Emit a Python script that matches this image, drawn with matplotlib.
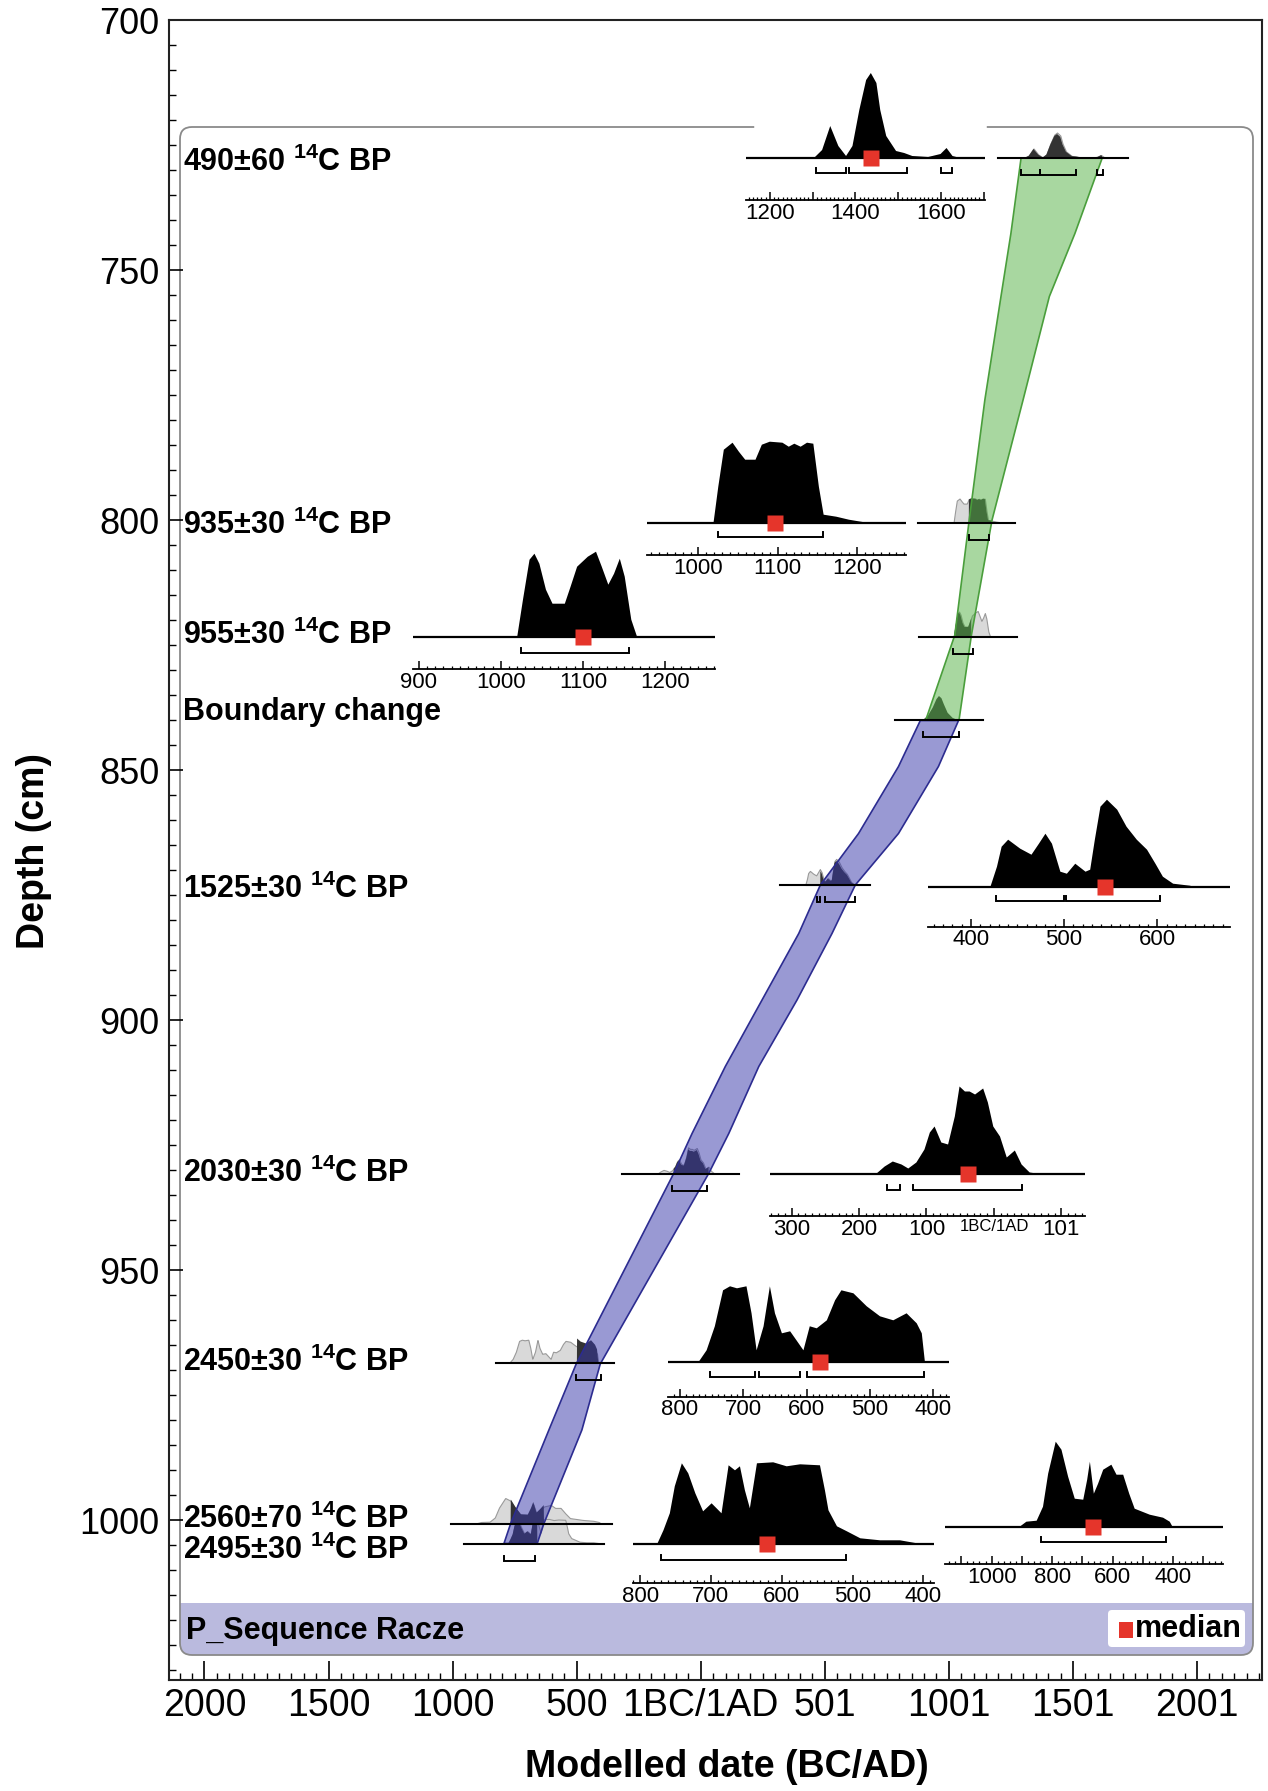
import numpy as np
import matplotlib
matplotlib.use('Agg')
import matplotlib.pyplot as plt
from matplotlib.patches import FancyBboxPatch, Rectangle
from matplotlib.ticker import MultipleLocator, FuncFormatter
from matplotlib.colors import to_rgba

plt.rcParams['font.family'] = ['Liberation Sans', 'DejaVu Sans']
plt.rcParams['mathtext.fontset'] = 'custom'
plt.rcParams['mathtext.rm'] = 'Liberation Sans'
plt.rcParams['mathtext.bf'] = 'Liberation Sans:bold'
plt.rcParams['mathtext.default'] = 'bf'

W, H = 1268, 1791
RED = '#e5352b'

# ---------------- data ----------------
x_ticks = [-2000, -1500, -1000, -500, 0, 500, 1000, 1500, 2000]
x_tick_labels = ['2000', '1500', '1000', '500', '1BC/1AD', '501', '1001', '1501', '2001']
y_ticks = [700, 750, 800, 850, 900, 950, 1000]

# age-depth model envelopes (depth cm, date)
green_depth = [727.6, 742.7, 755.3, 776, 800, 823, 840]
green_left = [1291, 1250, 1210, 1145, 1082, 1024, 907]
green_right = [1618, 1508, 1405, 1299, 1174, 1091, 1041]
blue_depth = [840.1, 849.3, 862.7, 873, 882.7, 896, 909.3, 922.7, 930.7, 968.8, 982, 1000.7, 1004.7]
blue_left = [885, 797, 636, 482, 395, 247, 99, -35, -109, -502, -612, -766, -793]
blue_right = [1039, 958, 797, 623, 529, 388, 234, 113, 32, -405, -479, -632, -659]

labels = ['490±60', '935±30', '955±30', '1525±30', '2030±30', '2450±30', '2560±70', '2495±30']
depths = [727.6, 800.5, 823.3, 873.0, 930.7, 968.5, 1000.7, 1004.7]
label_depths = [728.4, 801.0, 823.0, 873.8, 930.6, 968.4, 999.8, 1006.0]

d490_yr = [1303, 1322, 1341, 1360, 1378, 1393, 1409, 1425, 1436, 1449, 1458, 1472, 1495, 1514, 1533, 1570, 1599, 1613, 1627, 1645]
d490_p = [0, 8, 32, 12, 2, 12, 48, 78, 85, 75, 48, 22, 7, 5, 2, 1, 4, 10, 2, 0]
d935_yr = [1019, 1025, 1032, 1043, 1051, 1059, 1072, 1080, 1090, 1106, 1114, 1121, 1129, 1137, 1145, 1152, 1158, 1174, 1190, 1205, 1213]
d935_p = [0, 36, 73, 80, 71, 63, 63, 78, 81, 80, 76, 79, 76, 80, 79, 36, 8, 6, 3, 1, 0]
d955_yr = [1020, 1027, 1035, 1041, 1047, 1055, 1063, 1078, 1085, 1093, 1106, 1116, 1123, 1131, 1138, 1145, 1151, 1159, 1166]
d955_p = [0, 37, 77, 83, 73, 47, 33, 33, 50, 70, 80, 85, 70, 52, 63, 78, 60, 17, 0]
d1525_yr = [421, 428, 433, 440, 453, 465, 473, 480, 487, 496, 503, 512, 523, 528, 533, 539, 546, 557, 567, 578, 589, 598, 606, 617, 635, 639]
d1525_p = [0, 20, 40, 47, 38, 32, 43, 53, 43, 15, 13, 23, 15, 17, 47, 80, 87, 77, 60, 47, 37, 23, 10, 3, 1, 0]
d2030_yr = [-174, -162, -150, -137, -127, -115, -103, -95, -88, -78, -68, -58, -51, -43, -36, -28, -16, -9, -1, 9, 19, 31, 41, 53, 63]
d2030_p = [0, 7, 12, 9, 5, 11, 24, 41, 47, 31, 29, 57, 87, 82, 82, 79, 85, 71, 47, 37, 16, 23, 9, 1, 0]
d2450_yr = [-771, -758, -745, -732, -721, -710, -695, -687, -679, -668, -658, -650, -639, -626, -616, -605, -595, -584, -568, -555, -545, -526, -505, -484, -463, -442, -426, -418, -413]
d2450_p = [0, 12, 36, 72, 76, 74, 76, 49, 12, 36, 76, 49, 29, 31, 22, 12, 36, 34, 42, 62, 72, 69, 56, 46, 42, 49, 39, 29, 0]
d2560_yr = [-907, -885, -851, -830, -813, -788, -769, -747, -725, -697, -684, -675, -662, -648, -631, -604, -587, -565, -545, -527, -477, -433, -411, -402]
d2560_p = [0, 5, 6, 20, 53, 85, 77, 50, 28, 27, 47, 65, 33, 43, 57, 62, 52, 52, 33, 18, 12, 9, 5, 0]
d2495_yr = [-776, -767, -758, -751, -741, -732, -722, -711, -699, -685, -675, -666, -659, -652, -645, -635, -612, -593, -574, -546, -539, -534, -522, -508, -489, -461, -433, -409, -405]
d2495_p = [0, 14, 31, 58, 81, 71, 51, 33, 41, 31, 79, 74, 78, 54, 36, 81, 82, 78, 80, 79, 54, 34, 18, 13, 6, 4, 4, 1, 0]

medians = [1437, 1096, 1100, 544, -38, -579, -666, -621]
hpd = [[(1308, 1378), (1385, 1520), (1600, 1626)],
       [(1025, 1157)],
       [(1024, 1156)],
       [(427, 500), (502, 603)],
       [(-159, -140), (-120, 41)],
       [(-753, -682), (-675, -610), (-599, -415)],
       [(-835, -424)],
       [(-771, -509)]]
post_ranges = [[(1291, 1368), (1368, 1512), (1597, 1621)],
               [(1081, 1161)],
               [(1015, 1096)],
               [(467, 482), (502, 623)],
               [(-116, 25)],
               [(-502, -403)],
               [],
               [(-793, -666)]]
main_base = [(1200, 1720), (874, 1265), (878, 1275), (321, 683), (-317, 153), (-826, -348), (-1008, -357), (-953, -390)]

bnd_depth = 840
bnd_yr = [895, 915, 935, 950, 960, 970, 980, 995, 1015, 1035]
bnd_p = [0, 0.17, 0.52, 0.87, 1.0, 0.91, 0.65, 0.3, 0.09, 0]
bnd_range = (894, 1040)
bnd_base = (782, 1138)

ins_xlim = [(1144, 1703), (935, 1262), (893, 1261), (354, 678), (-332, 135), (-819, -375), (-1154, -235), (-810, -385)]
ins_ticks = [[1200, 1400, 1600], [1000, 1100, 1200], [900, 1000, 1100, 1200], [400, 500, 600],
             [-300, -200, -100, 0, 100], [-800, -700, -600, -500, -400], [-1000, -800, -600, -400],
             [-800, -700, -600, -500, -400]]
ins_tick_labels = [['1200', '1400', '1600'], ['1000', '1100', '1200'], ['900', '1000', '1100', '1200'],
                   ['400', '500', '600'], ['300', '200', '100', '1BC/1AD', '101'],
                   ['800', '700', '600', '500', '400'], ['1000', '800', '600', '400'],
                   ['800', '700', '600', '500', '400']]
ins_minor = [10, 10, 10, 10, 10, 10, 20, 10]

dists = [(d490_yr, d490_p), (d935_yr, d935_p), (d955_yr, d955_p), (d1525_yr, d1525_p),
         (d2030_yr, d2030_p), (d2450_yr, d2450_p), (d2560_yr, d2560_p), (d2495_yr, d2495_p)]

# inset placement in pixels (layout)
ins_x0 = [746, 647, 413, 928, 770, 668, 945, 633]
ins_x1 = [985, 906, 715, 1230, 1085, 949, 1223, 934]
ins_base = [158, 522.7, 636.7, 886.7, 1173.5, 1362.3, 1526.7, 1544.3]
ins_tick = [200, 555, 669, 926.7, 1216, 1396.7, 1564, 1583.3]
ins_brk = [173, 537, 653, 901, 1190, 1376.7, 1542.3, 1560]
PEAK = 85.0

fig = plt.figure(figsize=(W / 100, H / 100), dpi=100)

# background layer in pixel coordinates
bg = fig.add_axes([0, 0, 1, 1], zorder=0)
bg.set_xlim(0, W); bg.set_ylim(H, 0); bg.axis('off')
bstyle = 'round,pad=0,rounding_size=12'
bg.add_patch(FancyBboxPatch((180, 127), 1073, 1528, boxstyle=bstyle, fc='white', ec='none'))
lav = FancyBboxPatch((180, 127), 1073, 1528, boxstyle=bstyle, fc='#babade', ec='none')
bg.add_patch(lav)
lav.set_clip_path(Rectangle((170, 1603), 1100, 70, transform=bg.transData))
bg.add_patch(FancyBboxPatch((180, 127), 1073, 1528, boxstyle=bstyle, fc='none', ec='#8a8a8a', lw=1.3, zorder=3))
bg.plot([757, 984], [127, 127], color='white', lw=4, zorder=4)
bg.text(186, 1631, 'P_Sequence Racze', fontsize=22, fontweight='bold', va='center', ha='left')
bg.add_patch(FancyBboxPatch((1108, 1610), 137, 37, boxstyle='round,pad=0,rounding_size=4', fc='white', ec='none', zorder=3))
bg.add_patch(Rectangle((1119, 1622), 14, 16, fc=RED, ec='none', zorder=4))
bg.text(1135, 1629, 'median', fontsize=22, fontweight='bold', va='center', ha='left', zorder=4)

# main axes
ax = fig.add_axes([169 / W, 1 - 1680 / H, (1262 - 169) / W, (1680 - 20) / H], zorder=1)
ax.patch.set_alpha(0)
ax.set_xlim(-2143, 2262)
ax.set_ylim(1032, 700)
for s in ax.spines.values():
    s.set_linewidth(1.5)
    s.set_color('#222222')
ax.set_xticks(x_ticks, x_tick_labels, fontsize=27)
ax.set_yticks(y_ticks, [str(v) for v in y_ticks], fontsize=26)
ax.xaxis.set_minor_locator(MultipleLocator(50))
ax.yaxis.set_minor_locator(MultipleLocator(5))
ax.tick_params(axis='x', which='major', direction='in', length=14, width=1.2, pad=6)
ax.tick_params(axis='y', which='major', direction='in', length=10, width=1.2, pad=7)
ax.tick_params(which='minor', direction='in', length=5, width=1)

fig.text(34 / W, 1 - 851 / H, 'Depth (cm)', rotation=90, fontsize=27, fontweight='bold', ha='center', va='center')
fig.text(727 / W, 1 - 1767 / H, 'Modelled date (BC/AD)', fontsize=27, fontweight='bold', ha='center', va='center')

PRIOR_CM = 0.3 / 5   # main-axis height (cm) per px of enlarged-plot height
POST_CM = 4.8


def bracket(a, x0, x1, y, h, lw=1.4):
    a.plot([x0, x0, x1, x1], [y + h, y, y, y + h], color='k', lw=lw, solid_joinstyle='miter', zorder=6)


# model bands
ax.fill(green_left + green_right[::-1], green_depth + green_depth[::-1],
        fc=to_rgba('#52b043', 0.5), ec='#4a9e3c', lw=1.2, zorder=4)
ax.fill(blue_left + blue_right[::-1], blue_depth + blue_depth[::-1],
        fc=to_rgba('#3535a8', 0.5), ec='#2c2c90', lw=1.2, zorder=4)

# small distributions on the model
for i, (yr, p) in enumerate(dists):
    dep = depths[i]
    yr = np.array(yr, float); p = np.array(p, float)
    xx = np.linspace(yr[0], yr[-1], 500)
    pp = np.interp(xx, yr, p)
    ax.fill_between(xx, dep, dep - pp * PRIOR_CM, fc='#d9d9d9', ec='#9a9a9a', lw=0.8, zorder=2)
    if dep < 840:
        lo = np.interp(dep, green_depth, green_left); hi = np.interp(dep, green_depth, green_right)
    else:
        lo = np.interp(dep, blue_depth, blue_left); hi = np.interp(dep, blue_depth, blue_right)
    post = np.where((xx >= lo) & (xx <= hi), pp, 0)
    post = post / post.max()
    ax.fill_between(xx, dep, dep - post * POST_CM, fc='#333333', lw=0, zorder=3)
    ax.plot(main_base[i], [dep, dep], color='k', lw=1.5, zorder=6)
    for r0, r1 in post_ranges[i]:
        bracket(ax, r0, r1, dep + 3.4, -1.0, lw=1.4)

# boundary change
ax.fill_between(bnd_yr, bnd_depth, bnd_depth - np.array(bnd_p) * POST_CM, fc='#333333', lw=0, zorder=3)
ax.plot(bnd_base, [bnd_depth, bnd_depth], color='k', lw=1.5, zorder=6)
bracket(ax, bnd_range[0], bnd_range[1], bnd_depth + 3.4, -1.0)

# labels
for lab, ld in zip(labels, label_depths):
    ax.text(-2088, ld, lab + r' $^{14}$C BP', fontsize=22, fontweight='bold', ha='left', va='center', zorder=7)
ax.text(-2088, 838.4, 'Boundary change', fontsize=22, fontweight='bold', ha='left', va='center', zorder=7)

# enlarged distributions
for i, (yr, p) in enumerate(dists):
    x0, x1 = ins_x0[i], ins_x1[i]
    base, tick, brk = ins_base[i], ins_tick[i], ins_brk[i]
    top = 95
    a = fig.add_axes([x0 / W, 1 - tick / H, (x1 - x0) / W, (tick - (base - top)) / H], zorder=3)
    a.patch.set_alpha(0)
    a.set_xlim(*ins_xlim[i])
    a.set_ylim(-(tick - base) / PEAK, top / PEAK)
    for s in ['top', 'left', 'right']:
        a.spines[s].set_visible(False)
    a.spines['bottom'].set_linewidth(1.3)
    a.set_yticks([])
    a.fill_between(yr, 0, np.array(p) / PEAK, fc='black', lw=0, zorder=2)
    a.axhline(0, color='k', lw=1.6, zorder=3)
    a.plot(medians[i], 0, 's', color=RED, ms=11.5, mec='none', zorder=5)
    for r0, r1 in hpd[i]:
        bracket(a, r0, r1, -(brk - base) / PEAK, 5 / PEAK)
    tk = dict(zip(ins_ticks[i], ins_tick_labels[i]))
    a.xaxis.set_major_locator(MultipleLocator(100))
    a.xaxis.set_minor_locator(MultipleLocator(ins_minor[i]))
    a.xaxis.set_major_formatter(FuncFormatter(lambda v, pos, tk=tk: tk.get(int(round(v)), '')))
    a.tick_params(which='major', direction='in', length=5.5, width=1.1, labelsize=16, pad=2)
    a.tick_params(which='minor', direction='in', length=2.5, width=0.9)
    for t in a.get_xticklabels():
        if t.get_text() == '1BC/1AD':
            t.set_fontsize(12)

fig.savefig('out.png', dpi=100)
